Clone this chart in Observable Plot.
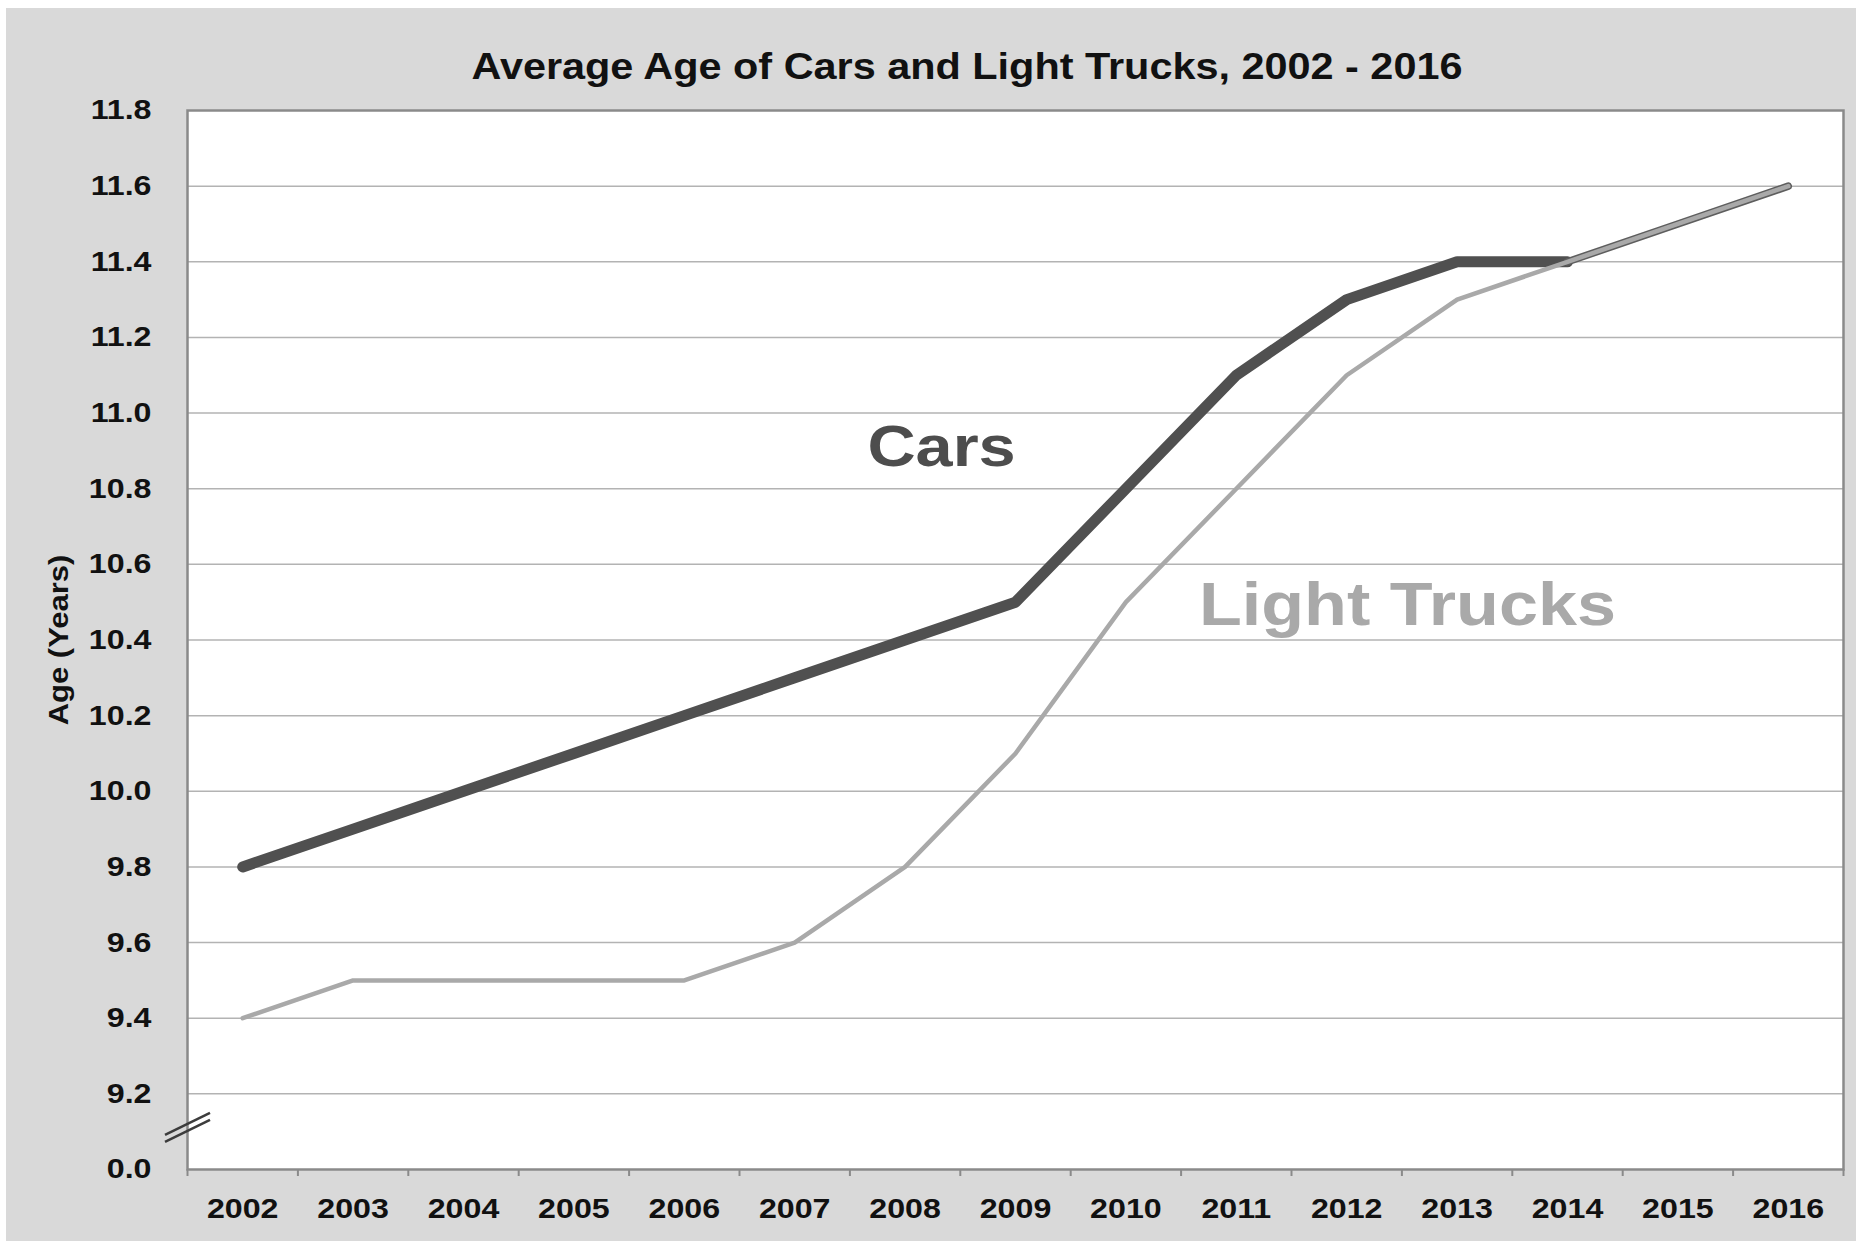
<!DOCTYPE html>
<html>
<head>
<meta charset="utf-8">
<script src="https://cdn.jsdelivr.net/npm/d3@7"></script>
<script src="https://cdn.jsdelivr.net/npm/@observablehq/plot@0.6"></script>
<style>
  html, body { margin: 0; padding: 0; background: #ffffff; width: 1856px; height: 1241px; overflow: hidden; }
  #wrap { position: absolute; left: 6px; top: 8px; width: 1850px; height: 1233px; background: #d9d9d9;
          font-family: "Liberation Sans", Arial, sans-serif; }
  #title { position: absolute; left: 961px; top: 41px; transform: translateX(-50%) scaleX(1.15);
           white-space: nowrap; font-weight: bold; font-size: 36px; line-height: 36px; color: #111; }
  #chart { position: absolute; left: 0; top: 82px; width: 1850px; height: 1151px; }
  #chart g[aria-label$="tick label"] { font-weight: bold; }
</style>
</head>
<body>
<div id="wrap">
  <div id="title">Average Age of Cars and Light Trucks, 2002 - 2016</div>
  <div id="chart"></div>
</div>
<script>
// ---- data ----
const years = [2002, 2003, 2004, 2005, 2006, 2007, 2008, 2009, 2010, 2011, 2012, 2013, 2014, 2015, 2016];
const carsAge = [9.8, 9.9, 10.0, 10.1, 10.2, 10.3, 10.4, 10.5, 10.8, 11.1, 11.3, 11.4, 11.4, 11.5, 11.6];
const trucksAge = [9.4, 9.5, 9.5, 9.5, 9.5, 9.6, 9.8, 10.1, 10.5, 10.8, 11.1, 11.3, 11.4, 11.5, 11.6];
const yTicks = [9.0, 9.2, 9.4, 9.6, 9.8, 10.0, 10.2, 10.4, 10.6, 10.8, 11.0, 11.2, 11.4, 11.6, 11.8];
const yTickLabels = ["0.0", "9.2", "9.4", "9.6", "9.8", "10.0", "10.2", "10.4", "10.6", "10.8", "11.0", "11.2", "11.4", "11.6", "11.8"];
const seriesNames = ["Cars", "Light Trucks"];
const labelYears = [2008.33, 2012.55];
const labelAges = [10.91, 10.49];
const overlapFrom = 2014;
const axisBreakAt = 9.11;
const yTitle = "Age (Years)";

// ---- build ----
const cars = years.map((year, i) => ({year, age: carsAge[i]}));
const trucks = years.map((year, i) => ({year, age: trucksAge[i]}));
const labels = seriesNames.map((name, i) => ({name, year: labelYears[i], age: labelAges[i]}));
const xEdges = d3.range(years.length + 1).map(i => years[0] - 0.5 + i);
const fmtY = d => yTickLabels[yTicks.findIndex(t => Math.abs(t - d) < 1e-9)];

const axisBreak = (index, scales, values, dimensions) => {
  const g = d3.create("svg:g");
  const x0 = dimensions.marginLeft;
  const y0 = scales.y(axisBreakAt);
  [-3.5, 3.5].forEach(off => {
    g.append("line")
      .attr("x1", x0 - 22).attr("y1", y0 + off + 11)
      .attr("x2", x0 + 23).attr("y2", y0 + off - 11)
      .attr("stroke", "#3c3c3c").attr("stroke-width", 2.5);
  });
  return g.node();
};

const lineOpts = {x: "year", y: "age", strokeLinecap: "round", strokeLinejoin: "round"};

const plot = Plot.plot({
  width: 1850,
  height: 1151,
  marginLeft: 181,
  marginRight: 13,
  marginTop: 20,
  marginBottom: 72,
  style: {background: "transparent", fontFamily: "Liberation Sans, Arial, sans-serif", color: "#111"},
  x: {domain: [years[0] - 0.5, years[years.length - 1] + 0.5]},
  y: {domain: [yTicks[0], yTicks[yTicks.length - 1]]},
  marks: [
    Plot.frame({fill: "white", stroke: "none"}),
    Plot.ruleY(yTicks.slice(1, -1), {stroke: "#b3b3b3", strokeWidth: 1.5}),
    Plot.frame({stroke: "#8a8a8a", strokeWidth: 2.5}),
    Plot.axisX({ticks: xEdges, tickFormat: () => "", tickSize: 7, stroke: "#8a8a8a", strokeWidth: 2, label: null}),
    Plot.axisX({ticks: years, tickFormat: d => String(d), tickSize: 0, tickPadding: 29,
                fontSize: 28, fontWeight: "bold", color: "#111", label: null}),
    Plot.axisY({ticks: yTicks, tickFormat: fmtY, tickSize: 0, tickPadding: 36,
                fontSize: 28, fontWeight: "bold", color: "#111", label: null}),
    Plot.text([yTitle], {text: d => d, frameAnchor: "left", textAnchor: "middle", lineAnchor: "middle",
                         dx: -128, rotate: -90, fontSize: 27, fontWeight: "bold", fill: "#111"}),
    axisBreak,
    Plot.line(cars.filter(d => d.year <= overlapFrom), {...lineOpts, stroke: "#505050", strokeWidth: 11}),
    Plot.line(cars.filter(d => d.year >= overlapFrom), {...lineOpts, stroke: "#5e5e5e", strokeWidth: 7.5}),
    Plot.line(trucks, {...lineOpts, stroke: "#a9a9a9", strokeWidth: 4.5}),
    Plot.text(labels.filter(d => d.name === "Cars"), {x: "year", y: "age", text: "name", fill: "#4d4d4d", fontSize: 58, fontWeight: "bold"}),
    Plot.text(labels.filter(d => d.name === "Light Trucks"), {x: "year", y: "age", text: "name", fill: "#a9a9a9", fontSize: 61, fontWeight: "bold"})
  ]
});

// horizontally stretch the text like the reference's widened lettering
plot.querySelectorAll("text").forEach(t => {
  const tr = t.getAttribute("transform") || "";
  const x = t.getAttribute("x");
  let extra = "";
  if (x !== null && !isNaN(+x)) { extra = ` translate(${+x},0)`; t.setAttribute("x", 0); }
  t.setAttribute("transform", `${tr}${extra} scale(1.15,1)`);
});

document.getElementById("chart").appendChild(plot);
</script>
</body>
</html>
